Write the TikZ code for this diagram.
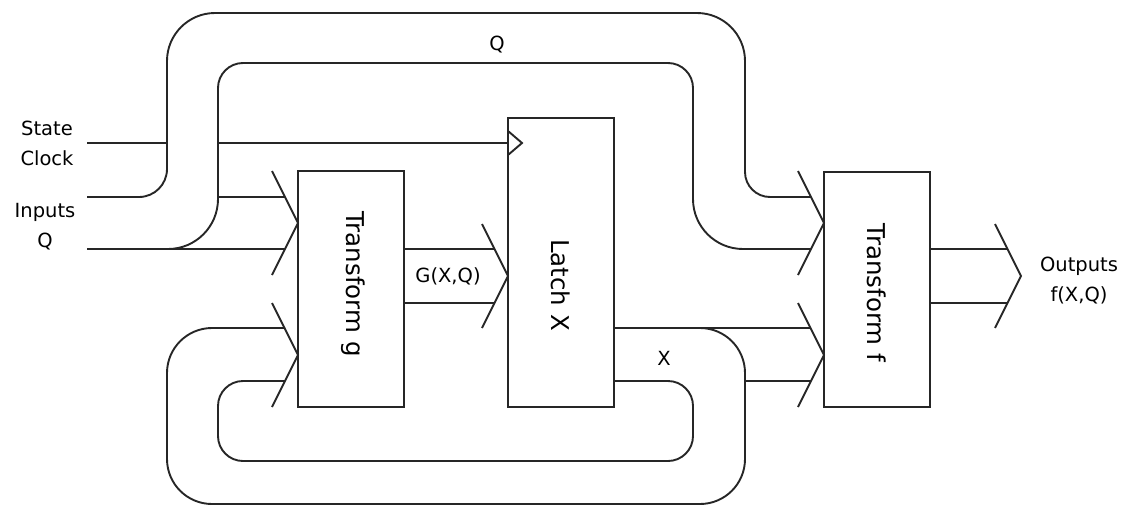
\documentclass[tikz,border=0pt]{standalone}
\usepackage{fontspec}
\setmainfont{DejaVu Sans}
\begin{document}
\begin{tikzpicture}[x=1pt,y=-1pt,
  wire/.style={draw=black!85,line width=1.9pt},
  blockbox/.style={wire,fill=white,inner sep=0pt},
  lbl/.style={font=\fontsize{19.5}{30}\selectfont,inner sep=0pt,align=center},
  boxlbl/.style={font=\fontsize{24.5}{30}\selectfont,inner sep=0pt,rotate=-90}]
\useasboundingbox (0,0) rectangle (1127,509);

% blocks
\node[blockbox,minimum width=106pt,minimum height=236pt] (g) at (351,289) {};
\node[blockbox,minimum width=106pt,minimum height=289pt] (latch) at (561,262.5) {};
\node[blockbox,minimum width=106pt,minimum height=235pt] (f) at (877,289.5) {};
\node[boxlbl] (gl) at (353,284) {Transform g};
\node[boxlbl] (ll) at (561,285) {Latch X};
\node[boxlbl] (fl) at (877,293) {Transform f};

% labels
\node[lbl] (sc) at (47,143) {State\\Clock};
\node[lbl] (iq) at (45,227) {Inputs\\Q};
\node[lbl] (ql) at (497,45) {Q};
\node[lbl] (xl) at (664,358) {X};
\node[lbl] (gq) at (448,276) {G(X,Q)};
\node[lbl] (out) at (1079,281) {Outputs\\f(X,Q)};

% named points
\coordinate (clkA) at (87,143);
\coordinate (clkB) at (167,143);
\coordinate (clkC) at (218,143);
\coordinate (clkD) at (latch.west |- clkC);

% clock line and clock mark
\draw[wire] (clkA) -- (clkB);
\draw[wire] (clkC) -- (clkD);
\draw[wire] (508,131) -- (522,143) -- (508,155);

% chevrons (bus arrowheads)
\draw[wire] (272,171) -- (298,223) -- (272,275);
\draw[wire] (272,303) -- (298,355) -- (272,407);
\draw[wire] (482,224) -- (508,276) -- (482,328);
\draw[wire] (798,171) -- (824,223) -- (798,275);
\draw[wire] (798,303) -- (824,355) -- (798,407);
\draw[wire] (995,224) -- (1021,276) -- (995,328);

% upper outer Q loop
\draw[wire,rounded corners=28pt] (87,197) -- (167,197) -- (167,120);
\draw[wire,rounded corners=48pt] (167,120) -- (167,13) -- (450,13);
\draw[wire,rounded corners=48pt] (450,13) -- (745,13) -- (745,120);
\draw[wire,rounded corners=25pt] (745,120) -- (745,197) -- (811,197);

% upper inner Q loop
\draw[wire] (87,249) -- (285,249);
\draw[wire] (218,197) -- (285,197);
\draw[wire,rounded corners=50pt] (150,249) -- (218,249) -- (218,150);
\draw[wire,rounded corners=25pt] (218,150) -- (218,63) -- (450,63);
\draw[wire,rounded corners=25pt] (450,63) -- (693,63) -- (693,130);
\draw[wire,rounded corners=50pt] (693,130) -- (693,249) -- (811,249);

% G(X,Q) bus
\draw[wire] (g.east |- 0,249) -- (495,249);
\draw[wire] (g.east |- 0,303) -- (495,303);

% latch outputs
\draw[wire] (latch.east |- 0,328) -- (811,328);
\draw[wire] (745,381) -- (811,381);

% lower outer loop
\draw[wire,rounded corners=45pt] (680,328) -- (745,328) -- (745,420);
\draw[wire,rounded corners=45pt] (745,420) -- (745,504) -- (450,504);
\draw[wire,rounded corners=45pt] (450,504) -- (167,504) -- (167,420);
\draw[wire,rounded corners=45pt] (167,420) -- (167,328) -- (285,328);

% lower inner loop
\draw[wire,rounded corners=25pt] (latch.east |- 0,381) -- (693,381) -- (693,421);
\draw[wire,rounded corners=25pt] (693,421) -- (693,461) -- (450,461);
\draw[wire,rounded corners=25pt] (450,461) -- (218,461) -- (218,421);
\draw[wire,rounded corners=25pt] (218,421) -- (218,381) -- (285,381);

% outputs
\draw[wire] (f.east |- 0,249) -- (1008,249);
\draw[wire] (f.east |- 0,303) -- (1008,303);
\end{tikzpicture}
\end{document}
